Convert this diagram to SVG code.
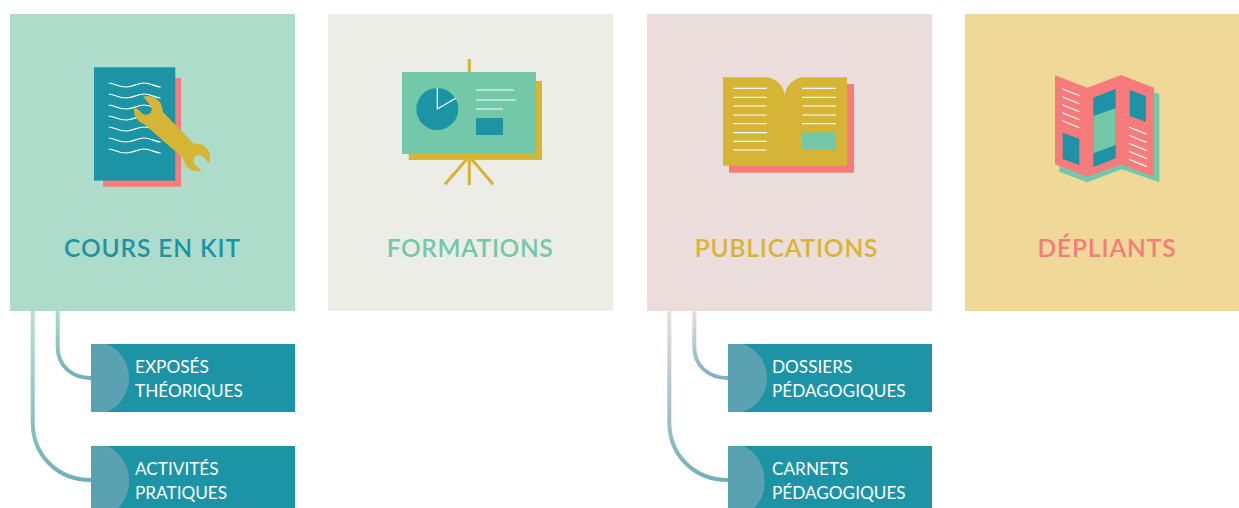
<svg xmlns="http://www.w3.org/2000/svg" width="1239" height="508" viewBox="0 0 1239 508">
<style>
.title{font-family:Lato,"Liberation Sans",sans-serif;font-size:24.5px;font-weight:600;text-anchor:middle}
.sub{font-family:Lato,"Liberation Sans",sans-serif;font-size:17.2px;fill:#fff}
.box{fill:#1c94a5}.half{fill:#5aa1b2}
.wl{fill:none;stroke:#fff;stroke-width:1.2}
.teal{fill:#1c94a5}.green{fill:#73c8a9}.yellow{fill:#d6b435}.pink{fill:#f67b7a}
.conn{fill:none;stroke-width:4}
</style>
<defs>
<linearGradient id="g1" gradientUnits="userSpaceOnUse" x1="0" y1="311" x2="0" y2="378"><stop offset="0" stop-color="#addccb"/><stop offset="1" stop-color="#6fb0b8"/></linearGradient>
<linearGradient id="g2" gradientUnits="userSpaceOnUse" x1="0" y1="311" x2="0" y2="480"><stop offset="0" stop-color="#b5e0d2"/><stop offset="1" stop-color="#6fb0b8"/></linearGradient>
<linearGradient id="g3" gradientUnits="userSpaceOnUse" x1="0" y1="311" x2="0" y2="378"><stop offset="0" stop-color="#ebdddc"/><stop offset="1" stop-color="#7db2bd"/></linearGradient>
<linearGradient id="g4" gradientUnits="userSpaceOnUse" x1="0" y1="311" x2="0" y2="480"><stop offset="0" stop-color="#ebdddc"/><stop offset="1" stop-color="#6fb0b8"/></linearGradient>
<path id="wave" class="wl" d="M108.700,83 C114,83 118,87 126,87 C134,87 137,83 144,83 C151,83 155,87 160.700,87"/>
</defs>
<rect width="1239" height="508" fill="#fff"/>
<g id="connectors">
<path class="conn" stroke="url(#g1)" d="M57.700,311 V347 C57.700,366 72,378 91,378"/>
<path class="conn" stroke="url(#g2)" d="M32.700,311 V422 C32.700,456 58,480 91,480"/>
<path class="conn" stroke="url(#g3)" d="M694.300,311 V347 C694.300,366 709,378 728,378"/>
<path class="conn" stroke="url(#g4)" d="M669.300,311 V422 C669.300,456 695,480 728,480"/>
</g>
<g id="cours-en-kit">
<rect x="10" y="14" width="285" height="297" fill="#addccb"/>
<rect class="pink" x="103" y="78" width="78" height="108.700"/>
<rect class="teal" x="94" y="67.300" width="81.300" height="113.300"/>
<use href="#wave"/><use href="#wave" y="11"/><use href="#wave" y="22"/><use href="#wave" y="33"/><use href="#wave" y="44"/><use href="#wave" y="55"/><use href="#wave" y="66"/>
<path class="yellow" d="M143.300,96.700 A15,15 0 0 1 162.700,111.700 L194,144 A14,14 0 0 1 209,163.300 L203.300,156.700 A5.500,5.500 0 0 0 195,164.500 L201.700,170.700 A14.500,14.500 0 0 1 183.300,158.300 L144,124 A15,15 0 0 1 134.300,106.700 L140.700,111.700 A5.500,5.500 0 0 0 151,106 Z"/>
<text class="title" x="152.500" y="257" fill="#1c94a5" letter-spacing=".9">COURS EN KIT</text>
</g>
<g id="formations">
<rect x="328" y="14" width="285" height="297" fill="#ebede6"/>
<path fill="none" stroke="#d6b435" stroke-width="3" d="M469.300,59 V185 M467,159 L445,184.300 M471.500,159 L493,184.300"/>
<rect class="yellow" x="408.700" y="81" width="133.300" height="79"/>
<rect class="green" x="402" y="72" width="134" height="82"/>
<circle class="teal" cx="437.300" cy="109" r="21"/>
<path class="wl" d="M437.300,88 V109 L455.700,98.300"/>
<path class="wl" d="M476,90 H514 M476,100 H516.300 M476,109 H503"/>
<rect class="teal" x="476" y="118" width="27" height="17"/>
<text class="title" x="470" y="257" fill="#73c8a9" letter-spacing=".6">FORMATIONS</text>
</g>
<g id="publications">
<rect x="647" y="14" width="285" height="297" fill="#ebdddc"/>
<path class="pink" d="M729,110 H820 V84 H854 V172.700 H729 Z"/>
<path class="yellow" d="M723,77.300 H765 A19.700,19.700 0 0 1 784.700,97 A20,20 0 0 1 805,77.300 H847 V165.700 H723 Z"/>
<path class="wl" d="M733.300,88.300 H766.700 M733.300,97.300 H766.700 M733.300,106 H766.700 M733.300,115 H766.700 M733.300,123.700 H766.700 M733.300,132.700 H766.700 M733.300,141.300 H766.700 M733.300,150 H766.700 M802.300,88.300 H836 M802.300,97.300 H836 M802.300,106 H836 M802.300,115 H836 M802.300,123.700 H836"/>
<rect class="green" x="802" y="132.300" width="33.700" height="17.700"/>
<text class="title" x="786.500" y="257" fill="#d6b435" letter-spacing=".8">PUBLICATIONS</text>
</g>
<g id="depliants">
<rect x="965" y="14" width="274" height="297" fill="#f0d899"/>
<polygon class="green" points="1059.300,160 1150,92.300 1154,92.300 1159.300,94 1159.300,182.300 1121.700,169.300 1087.300,182.300 1059.300,171.700"/>
<polygon class="pink" points="1055,75.300 1087.300,87.700 1121,75 1154,87.700 1154,176.700 1121,164.300 1087.300,176.700 1055,164.300"/>
<polygon class="teal" points="1062.700,132.700 1079.300,138.700 1079.300,165 1062.700,159"/>
<polygon class="teal" points="1093.300,97.700 1115.700,88.700 1115.700,158.300 1093.300,167"/>
<polygon class="green" points="1093.300,116 1115.700,108.300 1115.700,145 1093.300,153.300"/>
<polygon class="teal" points="1129.700,90 1146,96 1146,122 1129.700,116"/>
<path class="wl" d="M1062.300,88.700 L1079.700,95.700 M1062.300,96.700 L1079.700,103.700 M1062.300,104.700 L1079.700,111.700 M1062.300,112.700 L1079.700,119.700 M1062.300,120.700 L1079.700,127.700 M1129,127 L1146.700,134.300 M1129,135.200 L1146.700,142.500 M1129,143.300 L1146.700,150.600 M1129,151.300 L1146.700,158.600 M1129,159.300 L1146.700,166.600"/>
<text class="title" x="1107" y="257" fill="#f67b7a" letter-spacing=".9">DÉPLIANTS</text>
</g>
<g id="exposes-theoriques">
<rect class="box" x="91" y="344" width="204" height="68"/>
<path class="half" d="M91,344 H107 A37.300,37.300 0 0 1 107,412 H91 Z"/>
<text class="sub" x="135" y="373">EXPOSÉS</text><text class="sub" x="135" y="397">THÉORIQUES</text>
</g>
<g id="activites-pratiques">
<rect class="box" x="91" y="446" width="204" height="62"/>
<path class="half" d="M91,446 H107 A37.300,37.300 0 0 1 129,480 A37.300,37.300 0 0 1 118,508 H91 Z"/>
<text class="sub" x="135" y="475">ACTIVITÉS</text><text class="sub" x="135" y="499">PRATIQUES</text>
</g>
<g id="dossiers-pedagogiques">
<rect class="box" x="728" y="344" width="204" height="68"/>
<path class="half" d="M728,344 H743 A36,36 0 0 1 743,412 H728 Z"/>
<text class="sub" x="772" y="373">DOSSIERS</text><text class="sub" x="772" y="397">PÉDAGOGIQUES</text>
</g>
<g id="carnets-pedagogiques">
<rect class="box" x="728" y="446" width="204" height="62"/>
<path class="half" d="M728,446 H743 A36,36 0 0 1 764.500,480 A36,36 0 0 1 754,508 H728 Z"/>
<text class="sub" x="772" y="475">CARNETS</text><text class="sub" x="772" y="499">PÉDAGOGIQUES</text>
</g>
</svg>
